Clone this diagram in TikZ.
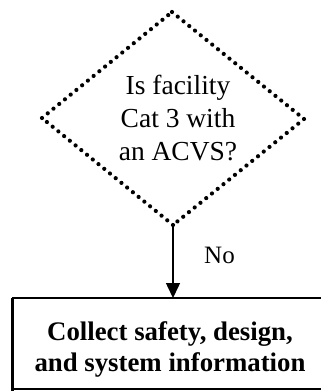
\documentclass[tikz,border=0pt]{standalone}
\usepackage{fontspec}
\setmainfont{Liberation Serif}
\usetikzlibrary{arrows.meta,decorations.markings}
\begin{document}
\begin{tikzpicture}[x=1pt,y=-1pt,
  dots/.style={decoration={markings,
      mark=between positions 0 and 1 step 7.4pt with {\fill (0,0) circle (2.1pt);}},
    postaction={decorate}},
  flow/.style={line width=1.5pt, -{Triangle[length=15pt,width=14pt]}},
  qtext/.style={align=center, font=\fontsize{27.5}{33}\selectfont, inner sep=0pt},
  btext/.style={align=center, font=\fontsize{26.8}{31}\selectfont\bfseries, inner sep=0pt},
  frame/.style={line width=1.6pt}]
  \useasboundingbox (0,0) rectangle (321,391);
  \clip (0,0) rectangle (321,391);

  % decision diamond, drawn as a row of dots on each side
  \coordinate (dt) at (172,12);
  \coordinate (dl) at (42,118);
  \coordinate (dr) at (304,119);
  \coordinate (db) at (173,225);
  \path[dots] (dt) -- (dr);
  \path[dots] (dr) -- (db);
  \path[dots] (db) -- (dl);
  \path[dots] (dl) -- (dt);
  \node[qtext] (q) at (178,118) {Is facility\\Cat 3 with\\an ACVS?};

  % action box, running past the right and lower edges
  \coordinate (bl) at (13,298);
  \coordinate (br) at (340,389);
  \draw[frame] (bl) rectangle (br);
  \draw[line width=3.2pt] (12.5,298) -- (12.5,391);
  \draw[line width=2.4pt] (13,298) -- (321,298);
  \node[btext] (act) at (170,349) {Collect safety, design,\\and system information};

  % connector
  \coordinate (bt) at (173,298);
  \draw[flow] (db) -- (bt);
  \node[font=\fontsize{25}{28}\selectfont, anchor=west, inner sep=0pt] (no) at (204,255) {No};
\end{tikzpicture}
\end{document}
